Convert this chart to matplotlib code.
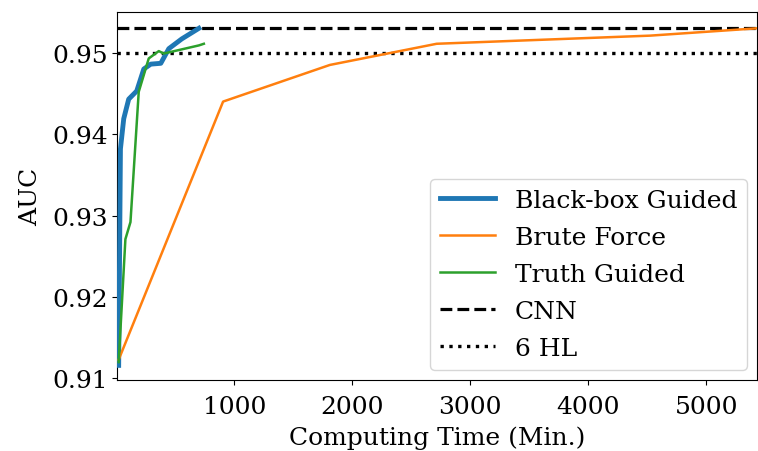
import matplotlib
matplotlib.use("Agg")
import matplotlib.pyplot as plt

plt.rcParams['font.family'] = ['DejaVu Serif']

bb_x = [20, 35, 63, 105, 173, 233, 292, 377, 445, 555, 700]
bb_y = [0.9116, 0.9382, 0.9419, 0.9443, 0.9453, 0.9480, 0.9486, 0.9487, 0.9505, 0.9517, 0.9530]

bf_x = [20, 905, 1810, 2715, 3620, 4525, 5430]
bf_y = [0.9123, 0.9440, 0.9485, 0.9511, 0.9516, 0.9521, 0.9530]

tg_x = [20, 77, 120, 190, 275, 360, 402, 700, 742]
tg_y = [0.9120, 0.9271, 0.9292, 0.9452, 0.9493, 0.9502, 0.9499, 0.9509, 0.9511]

cnn_auc = 0.953
hl6_auc = 0.950

xticks = [1000, 2000, 3000, 4000, 5000]
yticks = [0.91, 0.92, 0.93, 0.94, 0.95]

fig = plt.figure(figsize=(7.58, 4.52), dpi=100)
ax = fig.add_axes([0.1550, 0.157, 0.8437, 0.8142])

ax.plot(bb_x, bb_y, color='#1f77b4', lw=3.5, label='Black-box Guided', zorder=3)
ax.plot(bf_x, bf_y, color='#ff7f0e', lw=1.8, label='Brute Force', zorder=3)
ax.plot(tg_x, tg_y, color='#2ca02c', lw=1.8, label='Truth Guided', zorder=3)
ax.axhline(cnn_auc, color='black', ls='--', lw=2.3, label='CNN', zorder=2)
ax.axhline(hl6_auc, color='black', ls=':', lw=2.4, label='6 HL', zorder=2)

ax.set_xlim(10, 5430)
ax.set_ylim(0.9098, 0.955)
ax.set_xticks(xticks)
ax.set_yticks(yticks)
ax.set_yticklabels(['%.2f' % v for v in yticks])
ax.tick_params(labelsize=18)
ax.tick_params(axis='x', pad=7.5)
ax.set_xlabel('Computing Time (Min.)', fontsize=18, labelpad=5)
ax.set_ylabel('AUC', fontsize=18, labelpad=7)
leg = ax.legend(loc='lower right', fontsize=18, labelspacing=0.56, handlelength=2.2,
                borderaxespad=0.4)
leg.set_zorder(5)

fig.savefig('out.png', dpi=100)
